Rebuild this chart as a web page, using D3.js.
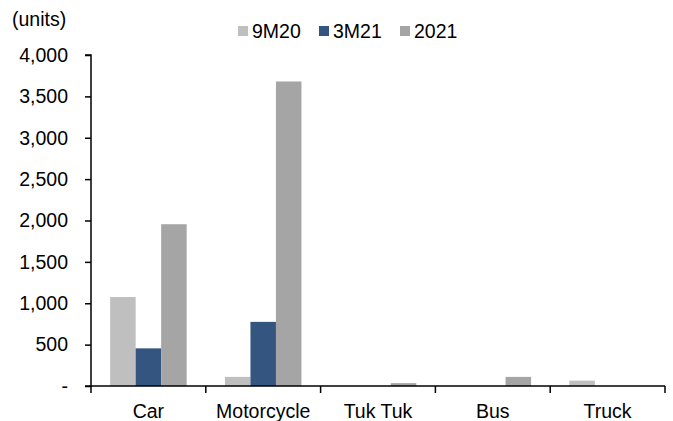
<!DOCTYPE html>
<html>
<head>
<meta charset="utf-8">
<script src="https://cdn.jsdelivr.net/npm/d3@7"></script>
<style>
  body { margin: 0; background: #fff; }
  text { font-family: "Liberation Sans", Arial, sans-serif; fill: #000; }
</style>
</head>
<body>
<svg id="chart"></svg>
<script>
const categories = ['Car', 'Motorcycle', 'Tuk Tuk', 'Bus', 'Truck'];
const seriesNames = ['9M20', '3M21', '2021'];
const values9M20 = [1075, 110, 0, 0, 65];
const values3M21 = [455, 775, 0, 0, 0];
const values2021 = [1955, 3680, 35, 110, 0];
const yTicks = [0, 500, 1000, 1500, 2000, 2500, 3000, 3500, 4000];
const colors = ['#bfbfbf', '#355581', '#a5a5a5'];

const width = 673, height = 421;
const margin = {top: 55, right: 8, bottom: 35, left: 91};
const fontSize = '19.5px';

const svg = d3.select('#chart')
  .attr('width', width)
  .attr('height', height);

const series = [values9M20, values3M21, values2021];
const data = categories.map((c, i) => ({
  cat: c,
  vals: seriesNames.map((s, j) => ({key: s, value: series[j][i], color: colors[j]}))
}));

const x0 = d3.scaleBand()
  .domain(categories)
  .range([margin.left, width - margin.right]);

const x1 = d3.scaleBand()
  .domain(seriesNames)
  .range([0, x0.bandwidth()])
  .paddingOuter(0.75);

const y = d3.scaleLinear()
  .domain([0, 4000])
  .range([height - margin.bottom, margin.top]);

// bars
const g = svg.selectAll('g.group')
  .data(data)
  .enter()
  .append('g')
  .attr('class', 'group')
  .attr('transform', d => 'translate(' + x0(d.cat) + ',0)');

g.selectAll('rect')
  .data(d => d.vals)
  .enter()
  .append('rect')
  .attr('x', d => x1(d.key))
  .attr('width', x1.bandwidth())
  .attr('y', d => y(d.value))
  .attr('height', d => y(0) - y(d.value))
  .style('fill', d => d.color);

// y axis
const yAxis = d3.axisLeft(y)
  .tickValues(yTicks)
  .tickSize(6)
  .tickPadding(17)
  .tickFormat(d => d === 0 ? '-' : d3.format(',')(d));

svg.append('g')
  .attr('transform', 'translate(' + margin.left + ',0)')
  .call(yAxis)
  .call(a => a.select('.domain').attr('d', 'M-6,' + y(4000) + 'H0V' + y(0)))
  .call(a => a.selectAll('line, path').attr('stroke', '#000').attr('stroke-width', 1.5))
  .call(a => a.selectAll('text').style('font-size', fontSize).attr('fill', '#000'));

// x axis with ticks at category boundaries
const xAxisG = svg.append('g')
  .attr('transform', 'translate(0,' + y(0) + ')');

xAxisG.append('line')
  .attr('x1', margin.left - 6)
  .attr('x2', width - margin.right)
  .attr('stroke', '#000')
  .attr('stroke-width', 1.5);

const bounds = categories.map(c => x0(c)).concat([x0(categories[categories.length - 1]) + x0.bandwidth()]);

xAxisG.selectAll('line.tick')
  .data(bounds)
  .enter()
  .append('line')
  .attr('class', 'tick')
  .attr('x1', d => d)
  .attr('x2', d => d)
  .attr('y1', 0)
  .attr('y2', 7)
  .attr('stroke', '#000')
  .attr('stroke-width', 1.5);

xAxisG.selectAll('text')
  .data(categories)
  .enter()
  .append('text')
  .attr('x', d => x0(d) + x0.bandwidth() / 2)
  .attr('y', 32)
  .attr('text-anchor', 'middle')
  .style('font-size', fontSize)
  .text(d => d);

// units label
svg.append('text')
  .attr('x', 12)
  .attr('y', 26)
  .style('font-size', fontSize)
  .text('(units)');

// legend
const legendX = [238, 319, 400];
const legend = svg.selectAll('g.legend')
  .data(seriesNames)
  .enter()
  .append('g')
  .attr('class', 'legend')
  .attr('transform', (d, i) => 'translate(' + legendX[i] + ',31)');

legend.append('rect')
  .attr('x', 0)
  .attr('y', -5)
  .attr('width', 10)
  .attr('height', 10)
  .style('fill', (d, i) => colors[i]);

legend.append('text')
  .attr('x', 14)
  .attr('y', 7)
  .style('font-size', fontSize)
  .text(d => d);
</script>
</body>
</html>
